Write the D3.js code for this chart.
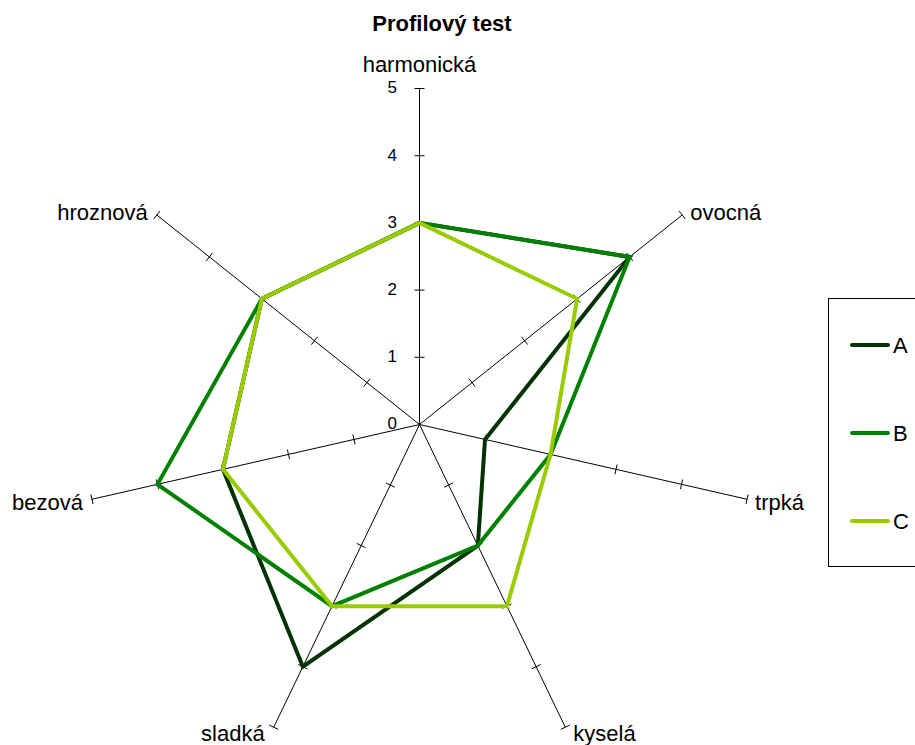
<!DOCTYPE html>
<html>
<head>
<meta charset="utf-8">
<script src="https://cdn.jsdelivr.net/npm/d3@7"></script>
<style>
  body { margin: 0; background: #fff; }
  text { font-family: "Liberation Sans", Arial, sans-serif; fill: #000; }
</style>
</head>
<body>
<div id="chart"></div>
<script>
const categories = ['harmonická', 'ovocná', 'trpká', 'kyselá', 'sladká', 'bezová', 'hroznová'];
const seriesNames = ['A', 'B', 'C'];
const valuesA = [3, 4, 1, 2, 4, 3, 3];
const valuesB = [3, 4, 2, 2, 3, 4, 3];
const valuesC = [3, 3, 2, 3, 3, 3, 3];
const ticks = [0, 1, 2, 3, 4, 5];
const colors = ['#003300', '#008000', '#99cc00'];

const width = 915;
const height = 745;
const cx = 419.5, cy = 424.5;

const svg = d3.select('#chart')
  .append('svg')
  .attr('width', width)
  .attr('height', height);

const r = d3.scaleLinear().domain([0, 5]).range([0, 336]);
const angle = d3.scaleLinear().domain([0, categories.length]).range([0, 2 * Math.PI]);

function pt(i, v) {
  const a = angle(i);
  return [cx + r(v) * Math.sin(a), cy - r(v) * Math.cos(a)];
}

// title
svg.append('text')
  .attr('x', 442).attr('y', 31)
  .attr('text-anchor', 'middle')
  .attr('font-size', '22px')
  .attr('font-weight', 'bold')
  .text('Profilový test');

// axes
const axes = svg.append('g');
categories.forEach((c, i) => {
  const end = pt(i, 5);
  axes.append('line')
    .attr('x1', cx).attr('y1', cy)
    .attr('x2', end[0]).attr('y2', end[1])
    .attr('stroke', '#000').attr('stroke-width', 1);
  const a = angle(i);
  const px = Math.cos(a), py = Math.sin(a);
  ticks.slice(1).forEach(t => {
    const p = pt(i, t);
    axes.append('line')
      .attr('x1', p[0] - px * 5).attr('y1', p[1] - py * 5)
      .attr('x2', p[0] + px * 5).attr('y2', p[1] + py * 5)
      .attr('stroke', '#000').attr('stroke-width', 1);
  });

  const s = Math.sin(a), co = Math.cos(a);
  let anchor = 'middle', lx = end[0], ly = end[1];
  if (Math.abs(s) < 0.1) { ly = end[1] - 24; }
  else {
    anchor = s > 0 ? 'start' : 'end';
    lx = end[0] + (s > 0 ? 8 : -9);
    ly = end[1] + (co > 0 ? -3 : co > -0.5 ? 3 : 6);
  }
  svg.append('text')
    .attr('x', lx).attr('y', ly)
    .attr('dy', '0.35em')
    .attr('text-anchor', anchor)
    .attr('font-size', '22px')
    .text(c);
});

// tick labels on the first axis
svg.append('g')
  .selectAll('text')
  .data(ticks)
  .join('text')
    .attr('x', 397)
    .attr('y', d => pt(0, d)[1] - 1)
    .attr('dy', '0.35em')
    .attr('text-anchor', 'end')
    .attr('font-size', '17px')
    .text(d => d);

// series
const series = [valuesA, valuesB, valuesC];
const line = d3.line()
  .x((d, i) => pt(i, d)[0])
  .y((d, i) => pt(i, d)[1])
  .curve(d3.curveLinearClosed);

svg.append('g')
  .selectAll('path')
  .data(series)
  .join('path')
    .attr('d', d => line(d))
    .attr('fill', 'none')
    .attr('stroke', (d, i) => colors[i])
    .attr('stroke-width', 4)
    .attr('stroke-linejoin', 'miter');

// legend
const legend = svg.append('g');
legend.append('rect')
  .attr('x', 828.5).attr('y', 298.5)
  .attr('width', 100).attr('height', 268)
  .attr('fill', '#fff')
  .attr('stroke', '#000').attr('stroke-width', 1);

const ly = d3.scalePoint().domain(seriesNames).range([345, 521]);
seriesNames.forEach((n, i) => {
  legend.append('line')
    .attr('x1', 852).attr('x2', 888)
    .attr('y1', ly(n)).attr('y2', ly(n))
    .attr('stroke', colors[i]).attr('stroke-width', 4)
    .attr('stroke-linecap', 'round');
  legend.append('text')
    .attr('x', 893).attr('y', ly(n))
    .attr('dy', '0.35em')
    .attr('font-size', '22px')
    .text(n);
});
</script>
</body>
</html>
